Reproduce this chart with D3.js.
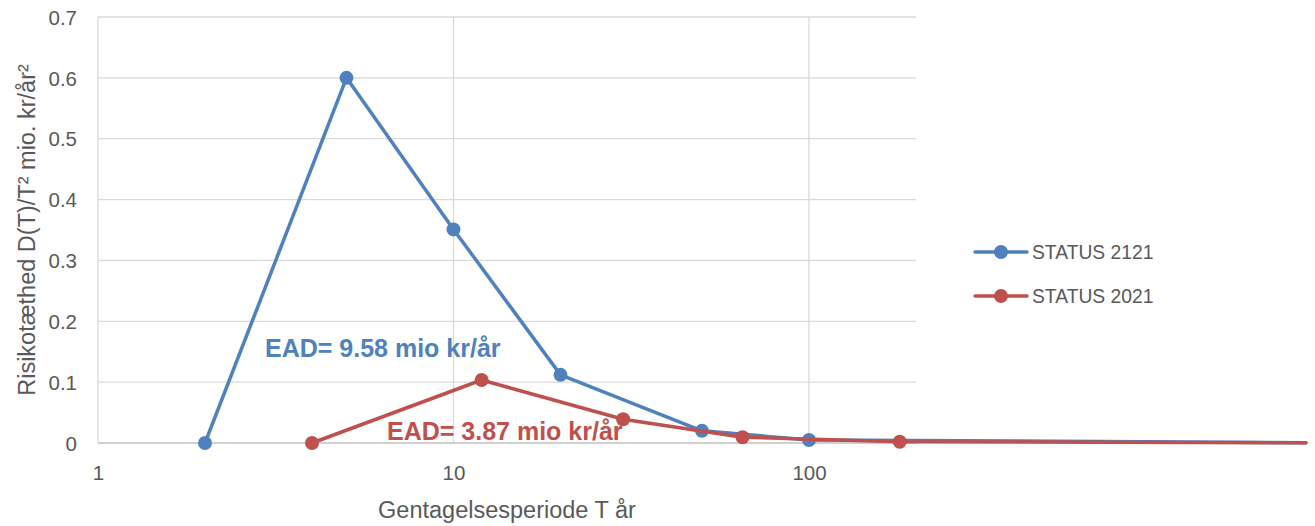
<!DOCTYPE html>
<html>
<head>
<meta charset="utf-8">
<script src="https://cdn.jsdelivr.net/npm/d3@7"></script>
<style>
  html, body { margin: 0; padding: 0; background: #fff; }
  svg { display: block; font-family: "Liberation Sans", Arial, sans-serif; }
</style>
</head>
<body>
<svg id="chart" width="1315" height="526"></svg>
<script>
// ---- data ----
const seriesNames = ["STATUS 2121", "STATUS 2021"];
const blueT = [2, 5, 10, 20, 50, 100, 2500];
const blueV = [0, 0.6, 0.351, 0.112, 0.02, 0.005, 0.0005];
const redT = [4, 12, 30, 65, 180, 2500];
const redV = [0, 0.1035, 0.039, 0.0095, 0.002, 0.0003];
const xTicks = [1, 10, 100];
const yTicks = [0, 0.1, 0.2, 0.3, 0.4, 0.5, 0.6, 0.7];
const annotations = ["EAD= 9.58 mio kr/år", "EAD= 3.87 mio kr/år"];
const xTitle = "Gentagelsesperiode T år";
const yTitle = "Risikotæthed D(T)/T² mio. kr/år²";

const colors = ["#4F81BD", "#C0504D"];
const xMax = 200;

const svg = d3.select("#chart");
const pL = 98, pR = 916, pT = 17, pB = 443;

const x = d3.scaleLog().domain([1, xMax]).range([pL, pR]);
const y = d3.scaleLinear().domain([0, 0.7]).range([pB, pT]);

// grid
const g = svg.append("g");
g.selectAll(".hg").data(yTicks.filter(d => d > 0)).join("line")
  .attr("x1", pL).attr("x2", pR)
  .attr("y1", d => y(d)).attr("y2", d => y(d))
  .attr("stroke", "#d9d9d9").attr("stroke-width", 1.3);
g.selectAll(".vg").data(xTicks).join("line")
  .attr("x1", d => x(d)).attr("x2", d => x(d))
  .attr("y1", pT).attr("y2", pB)
  .attr("stroke", "#d9d9d9").attr("stroke-width", 1.3);
// x axis line
g.append("line").attr("x1", pL).attr("x2", pR)
  .attr("y1", y(0)).attr("y2", y(0))
  .attr("stroke", "#bfbfbf").attr("stroke-width", 1.5);

// axes via d3 axis (no domain/ticks lines)
const yAxis = svg.append("g").attr("transform", `translate(${pL - 21},0)`)
  .call(d3.axisLeft(y).tickValues(yTicks).tickSize(0).tickFormat(d => d === 0 ? "0" : d3.format(".1f")(d)));
yAxis.select(".domain").remove();
yAxis.selectAll("text").attr("font-size", 20.5).attr("fill", "#595959")
  .attr("font-family", "Liberation Sans, Arial, sans-serif").attr("dy", "0.35em").attr("x", 0);

const xAxis = svg.append("g").attr("transform", `translate(0,${pB + 22})`)
  .call(d3.axisBottom(x).tickValues(xTicks).tickSize(0).tickFormat(d3.format("d")));
xAxis.select(".domain").remove();
xAxis.selectAll("text").attr("font-size", 20.5).attr("fill", "#595959")
  .attr("font-family", "Liberation Sans, Arial, sans-serif").attr("dy", "0.71em").attr("y", 0);

// titles
svg.append("text").attr("x", 507).attr("y", 518).attr("text-anchor", "middle")
  .attr("font-size", 23.5).attr("fill", "#595959").text(xTitle);
svg.append("text").attr("transform", "translate(35,230) rotate(-90)").attr("text-anchor", "middle")
  .attr("font-size", 23.5).attr("fill", "#595959").text(yTitle);

// series
const line = d3.line().x(d => x(d[0])).y(d => y(d[1]));
const series = [
  { name: seriesNames[0], pts: blueT.map((t, i) => [t, blueV[i]]), color: colors[0] },
  { name: seriesNames[1], pts: redT.map((t, i) => [t, redV[i]]), color: colors[1] }
];
series.forEach(s => {
  svg.append("path").datum(s.pts).attr("d", line)
    .attr("fill", "none").attr("stroke", s.color).attr("stroke-width", 3.5)
    .attr("stroke-linejoin", "round").attr("stroke-linecap", "round");
  svg.selectAll(null).data(s.pts.filter(p => p[0] <= xMax)).join("circle")
    .attr("cx", d => x(d[0])).attr("cy", d => y(d[1])).attr("r", 7)
    .attr("fill", s.color);
});

// annotations
svg.append("text").attr("x", 265).attr("y", 357).attr("font-size", 25).attr("font-weight", "bold")
  .attr("fill", colors[0]).text(annotations[0]);
svg.append("text").attr("x", 387).attr("y", 440).attr("font-size", 25).attr("font-weight", "bold")
  .attr("fill", colors[1]).text(annotations[1]);

// legend
const legY = [252, 296];
series.forEach((s, i) => {
  const lg = svg.append("g");
  lg.append("line").attr("x1", 975).attr("x2", 1027).attr("y1", legY[i]).attr("y2", legY[i])
    .attr("stroke", s.color).attr("stroke-width", 3.5).attr("stroke-linecap", "round");
  lg.append("circle").attr("cx", 1001).attr("cy", legY[i]).attr("r", 7).attr("fill", s.color);
  lg.append("text").attr("x", 1032).attr("y", legY[i]).attr("dy", "0.35em")
    .attr("font-size", 19.3).attr("fill", "#595959").text(s.name);
});
</script>
</body>
</html>
